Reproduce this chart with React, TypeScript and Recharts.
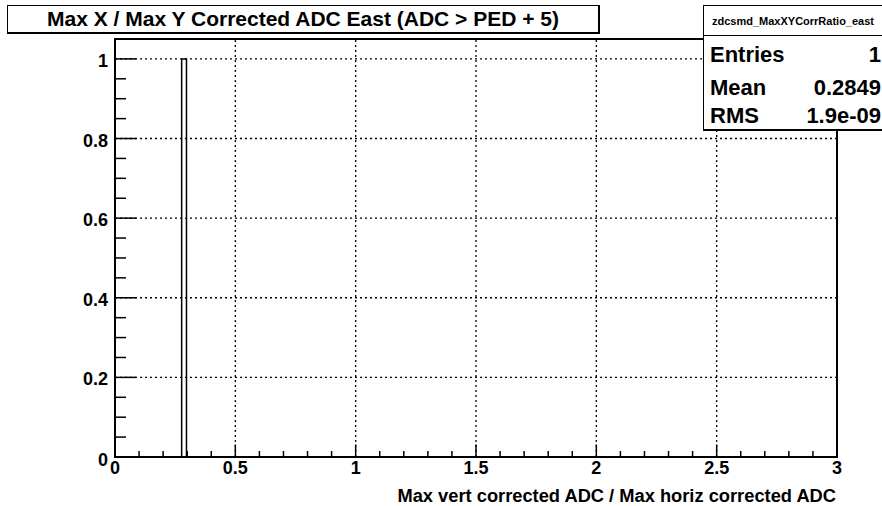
import React from "react";
import {
  ComposedChart,
  Line,
  XAxis,
  YAxis,
  ReferenceLine,
  ReferenceArea,
} from "recharts";

// histogram: bin edges + counts (single filled bin)
const BIN_EDGES = [0, 0.277, 0.297, 3];
const BIN_COUNTS = [0, 1, 0];

const X_MAJOR = [0, 0.5, 1, 1.5, 2, 2.5, 3];
const Y_MAJOR = [0, 0.2, 0.4, 0.6, 0.8, 1];
const X_SUBDIV = 5;
const Y_SUBDIV = 4;

const TITLE = "Max X / Max Y Corrected ADC East (ADC > PED + 5)";
const X_TITLE = "Max vert corrected ADC / Max horiz corrected ADC";
const STATS_NAME = "zdcsmd_MaxXYCorrRatio_east";
const STATS_LABELS = ["Entries", "Mean", "RMS"];
const STATS_VALUES = ["1", "0.2849", "1.9e-09"];

const FONT = '"Liberation Sans", Arial, Helvetica, sans-serif';

function withMinor(major: number[], n: number) {
  const out: number[] = [];
  for (let i = 0; i < major.length - 1; i++) {
    const a = major[i];
    const b = major[i + 1];
    for (let k = 0; k < n; k++) out.push(+(a + ((b - a) * k) / n).toFixed(4));
  }
  out.push(major[major.length - 1]);
  return out;
}

const isMajor = (v: number, major: number[]) => major.some((m) => Math.abs(m - v) < 1e-6);

const X_TICKS = withMinor(X_MAJOR, X_SUBDIV);
const Y_TICKS = withMinor(Y_MAJOR, Y_SUBDIV);

// step data from bin edges
const stepData = BIN_EDGES.map((e, i) => ({
  x: e,
  y: i < BIN_COUNTS.length ? BIN_COUNTS[i] : BIN_COUNTS[BIN_COUNTS.length - 1],
}));

function XTick(props: any) {
  const { x, y, payload } = props;
  const v = payload.value as number;
  const major = isMajor(v, X_MAJOR);
  return (
    <g>
      <line x1={x} x2={x} y1={y} y2={y - (major ? 12.5 : 6)} stroke="#000" strokeWidth={1.5} />
      {major && (
        <text
          x={x}
          y={y + 17}
          textAnchor="middle"
          fontFamily={FONT}
          fontWeight="bold"
          fontSize={18}
          fill="#000"
        >
          {String(v)}
        </text>
      )}
    </g>
  );
}

function YTick(props: any) {
  const { x, y, payload } = props;
  const v = payload.value as number;
  const major = isMajor(v, Y_MAJOR);
  return (
    <g>
      <line x1={x} x2={x + (major ? 21.5 : 11)} y1={y} y2={y} stroke="#000" strokeWidth={1.5} />
      {major && (
        <text
          x={x - 7}
          y={y + (v === 0 ? 9 : 8)}
          textAnchor="end"
          fontFamily={FONT}
          fontWeight="bold"
          fontSize={18}
          fill="#000"
        >
          {String(v)}
        </text>
      )}
    </g>
  );
}

const STAT_ROW_CENTER = [54, 87, 115];

export default function App() {
  return (
    <div
      style={{
        position: "absolute",
        left: 0,
        top: 0,
        width: 882,
        height: 506,
        overflow: "hidden",
        background: "#fff",
        fontFamily: FONT,
      }}
    >
      <ComposedChart
        width={882}
        height={506}
        data={stepData}
        margin={{ top: 39, right: 45, left: 0, bottom: 0 }}
      >
        <XAxis
          type="number"
          dataKey="x"
          domain={[0, 3]}
          ticks={X_TICKS}
          interval={0}
          tick={(p: any) => <XTick {...p} />}
          tickLine={false}
          axisLine={false}
          tickSize={0}
          tickMargin={0}
          height={49}
          allowDataOverflow
        />
        <YAxis
          type="number"
          domain={[0, 1.05]}
          ticks={Y_TICKS}
          interval={0}
          tick={(p: any) => <YTick {...p} />}
          tickLine={false}
          axisLine={false}
          tickSize={0}
          tickMargin={0}
          width={115}
          allowDataOverflow
        />
        {X_MAJOR.slice(1, -1).map((v) => (
          <ReferenceLine key={"gx" + v} x={v} stroke="#000" strokeWidth={1.3} strokeDasharray="2 3" />
        ))}
        {Y_MAJOR.slice(1).map((v) => (
          <ReferenceLine key={"gy" + v} y={v} stroke="#000" strokeWidth={1.3} strokeDasharray="2 3" />
        ))}
        <Line
          type="stepAfter"
          dataKey="y"
          stroke="#000"
          strokeWidth={1.5}
          dot={false}
          activeDot={false}
          isAnimationActive={false}
        />
        <ReferenceArea x1={0} x2={3} y1={0} y2={1.05} fill="none" stroke="#000" strokeWidth={2} />
      </ComposedChart>

      {/* title box */}
      <div
        style={{
          position: "absolute",
          left: 7,
          top: 5,
          width: 590,
          height: 26,
          border: "1px solid #000",
          borderRightWidth: 2,
          borderBottomWidth: 2,
          background: "#fff",
          display: "flex",
          alignItems: "center",
          justifyContent: "center",
          fontWeight: "bold",
          fontSize: 21,
          whiteSpace: "nowrap",
        }}
      >
        {TITLE}
      </div>

      {/* stats box */}
      <div
        style={{
          position: "absolute",
          left: 703,
          top: 5,
          width: 190,
          height: 123,
          border: "1px solid #000",
          borderBottomWidth: 2,
          background: "#fff",
        }}
      >
        <div
          style={{
            height: 29,
            borderBottom: "1px solid #000",
            display: "flex",
            alignItems: "center",
            paddingLeft: 8,
            fontWeight: "bold",
            fontSize: 11,
            whiteSpace: "nowrap",
          }}
        >
          {STATS_NAME}
        </div>
        {STATS_LABELS.map((lab, i) => (
          <div
            key={lab}
            style={{
              position: "absolute",
              left: 6,
              width: 171,
              top: STAT_ROW_CENTER[i] - 5 - 14,
              height: 28,
              display: "flex",
              alignItems: "center",
              justifyContent: "space-between",
              fontWeight: "bold",
              fontSize: 22,
              whiteSpace: "nowrap",
            }}
          >
            <span>{lab}</span>
            <span>{STATS_VALUES[i]}</span>
          </div>
        ))}
      </div>

      {/* x-axis title */}
      <div
        style={{
          position: "absolute",
          right: 882 - 836,
          top: 485,
          fontWeight: "bold",
          fontSize: 18.3,
          whiteSpace: "nowrap",
        }}
      >
        {X_TITLE}
      </div>
    </div>
  );
}
